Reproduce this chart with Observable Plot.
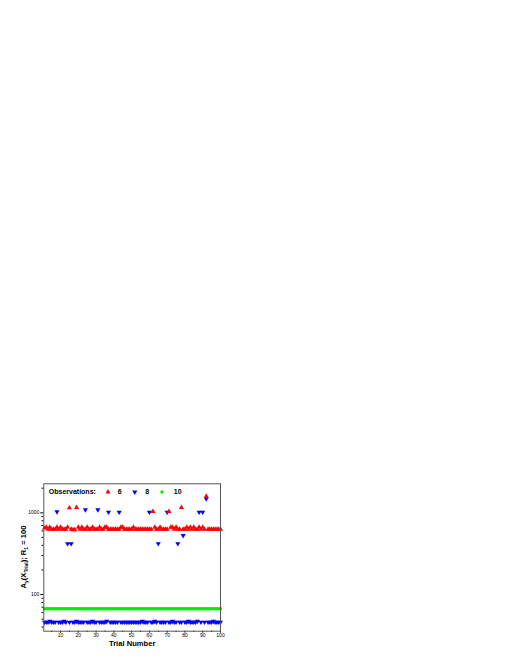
<!DOCTYPE html>
<html><head><meta charset="utf-8">
<script src="https://cdn.jsdelivr.net/npm/d3@7"></script>
<script src="https://cdn.jsdelivr.net/npm/@observablehq/plot@0.6"></script>
<style>body{margin:0;background:#fff;}</style>
</head><body><div id="chart"></div>
<script>
const trials = [
  1,2,3,4,5,6,7,8,9,10, 11,12,13,14,15,16,17,18,19,20,
  21,22,23,24,25,26,27,28,29,30, 31,32,33,34,35,36,37,38,39,40,
  41,42,43,44,45,46,47,48,49,50, 51,52,53,54,55,56,57,58,59,60,
  61,62,63,64,65,66,67,68,69,70, 71,72,73,74,75,76,77,78,79,80,
  81,82,83,84,85,86,87,88,89,90, 91,92,93,94,95,96,97,98,99,100];
const obs6 = [
  650,665,630,665,630,630,630,665,630,665,
  630,630,630,665,1150,630,620,620,1160,665,
  630,665,630,630,665,630,630,665,630,630,
  630,665,630,630,665,665,630,630,630,630,
  630,630,630,665,665,630,630,630,630,630,
  665,630,630,630,630,630,630,630,630,630,
  630,1040,665,630,630,665,630,630,630,630,
  1040,665,665,630,665,630,630,1160,630,630,
  665,630,665,630,665,630,630,665,630,665,
  630,1595,630,630,630,630,630,630,630,630];
const obs8 = [
  46,46,46,47,46,46,46,1030,46,46,
  46,47,46,420,46,420,46,46,47,46,
  46,46,46,1090,46,46,46,47,46,46,
  1090,46,46,46,46,47,1020,46,46,46,
  46,46,1020,46,46,46,46,46,46,46,
  46,46,46,46,46,47,46,46,46,1020,
  46,46,47,46,420,46,46,46,46,1020,
  46,46,47,46,46,420,46,46,527,46,
  46,47,46,46,46,46,47,1020,46,1020,
  46,1483,46,46,46,47,46,46,46,46];
const obs10 = [
  67,67,67,67,67,67,67,67,67,67,
  67,67,67,67,67,67,67,67,67,67,
  67,67,67,67,67,67,67,67,67,67,
  67,67,67,67,67,67,67,67,67,67,
  67,67,67,67,67,67,67,67,67,67,
  67,67,67,67,67,67,67,67,67,67,
  67,67,67,67,67,67,67,67,67,67,
  67,67,67,67,67,67,67,67,67,67,
  67,67,67,67,67,67,67,67,67,67,
  67,67,67,67,67,67,67,67,67,67];
const xMajorTicks = [10,20,30,40,50,60,70,80,90,100];
const xMinorTicks = [5,15,25,35,45,55,65,75,85,95];
const yMajorTicks = [100,1000];
const yMinorTicks = [40,50,60,70,80,90,200,300,400,500,600,700,800,900,2000];
const seriesNames = ["6","8","10"];
const seriesColors = ["#ff0000","#0000ff","#00ee00"];
const legendTitle = "Observations:";
const xLabel = "Trial Number";

const font = "'Liberation Sans', Arial, sans-serif";
const legendDy = 8.2;
const symR = 1.9;

const chart = Plot.plot({
  width: 512, height: 663,
  marginTop: 483.3, marginRight: 292, marginBottom: 32.3, marginLeft: 43.3,
  style: {fontFamily: font, fontSize: "5px", background: "#fff"},
  x: {domain: [0.6, 100]},
  y: {type: "log", domain: [35.6, 2265]},
  marks: [
    Plot.axisX({ticks: xMajorTicks, tickSize: 2, tickPadding: 0.5, label: null, fontSize: 5}),
    Plot.axisX({ticks: xMinorTicks, tickSize: 1.2, tickFormat: () => "", label: null}),
    Plot.axisY({ticks: yMajorTicks, tickSize: 3, tickPadding: 1.5, label: null, fontSize: 5, tickFormat: d => String(d)}),
    Plot.axisY({ticks: yMinorTicks, tickSize: 1.8, tickFormat: () => "", label: null}),
    Plot.dot(trials, {x: d => d, y: (d, i) => obs10[i], r: 1.7, fill: seriesColors[2], stroke: "none"}),
    Plot.dot(trials, {x: d => d, y: (d, i) => obs8[i], symbol: "triangle", rotate: 180, r: symR, fill: seriesColors[1], stroke: "none"}),
    Plot.dot(trials, {x: d => d, y: (d, i) => obs6[i], symbol: "triangle", r: symR, fill: seriesColors[0], stroke: "none"}),
    Plot.frame({stroke: "#555", strokeWidth: 1}),
    Plot.text([legendTitle], {frameAnchor: "top-left", lineAnchor: "middle", dx: 5, dy: legendDy, textAnchor: "start", fontWeight: "bold", fontSize: 7}),
    Plot.dot([0], {frameAnchor: "top-left", dx: 64.2, dy: legendDy, symbol: "triangle", r: symR, fill: seriesColors[0]}),
    Plot.text([seriesNames[0]], {frameAnchor: "top-left", lineAnchor: "middle", dx: 74, dy: legendDy, textAnchor: "start", fontWeight: "bold", fontSize: 7}),
    Plot.dot([0], {frameAnchor: "top-left", dx: 91, dy: legendDy, symbol: "triangle", rotate: 180, r: symR, fill: seriesColors[1]}),
    Plot.text([seriesNames[1]], {frameAnchor: "top-left", lineAnchor: "middle", dx: 101.4, dy: legendDy, textAnchor: "start", fontWeight: "bold", fontSize: 7}),
    Plot.dot([0], {frameAnchor: "top-left", dx: 118.2, dy: legendDy, r: 1.7, fill: seriesColors[2]}),
    Plot.text([seriesNames[2]], {frameAnchor: "top-left", lineAnchor: "middle", dx: 130, dy: legendDy, textAnchor: "start", fontWeight: "bold", fontSize: 7}),
    Plot.text([xLabel], {frameAnchor: "bottom", lineAnchor: "middle", dy: 12.5, fontWeight: "bold", fontSize: 7.6})
  ]
});
document.getElementById("chart").appendChild(chart);

// y-axis label with subscripts
const svg = d3.select(chart);
const yl = svg.append("text")
  .attr("transform", "translate(26,557) rotate(-90)")
  .attr("text-anchor", "middle")
  .attr("font-family", font)
  .attr("font-weight", "bold")
  .attr("font-size", 7.6)
  .attr("fill", "#000");
const parts = [["A",0],["y",1],["(X",0],["Trial",1],["); R",0],["1",1],[" = 100",0]];
let prevSub = 0;
for (const [s, sub] of parts) {
  const shift = (sub - prevSub) * 1.8;
  const ts = yl.append("tspan").text(s).attr("dy", shift);
  if (sub) ts.attr("font-size", 5);
  prevSub = sub;
}
</script>
</body></html>
